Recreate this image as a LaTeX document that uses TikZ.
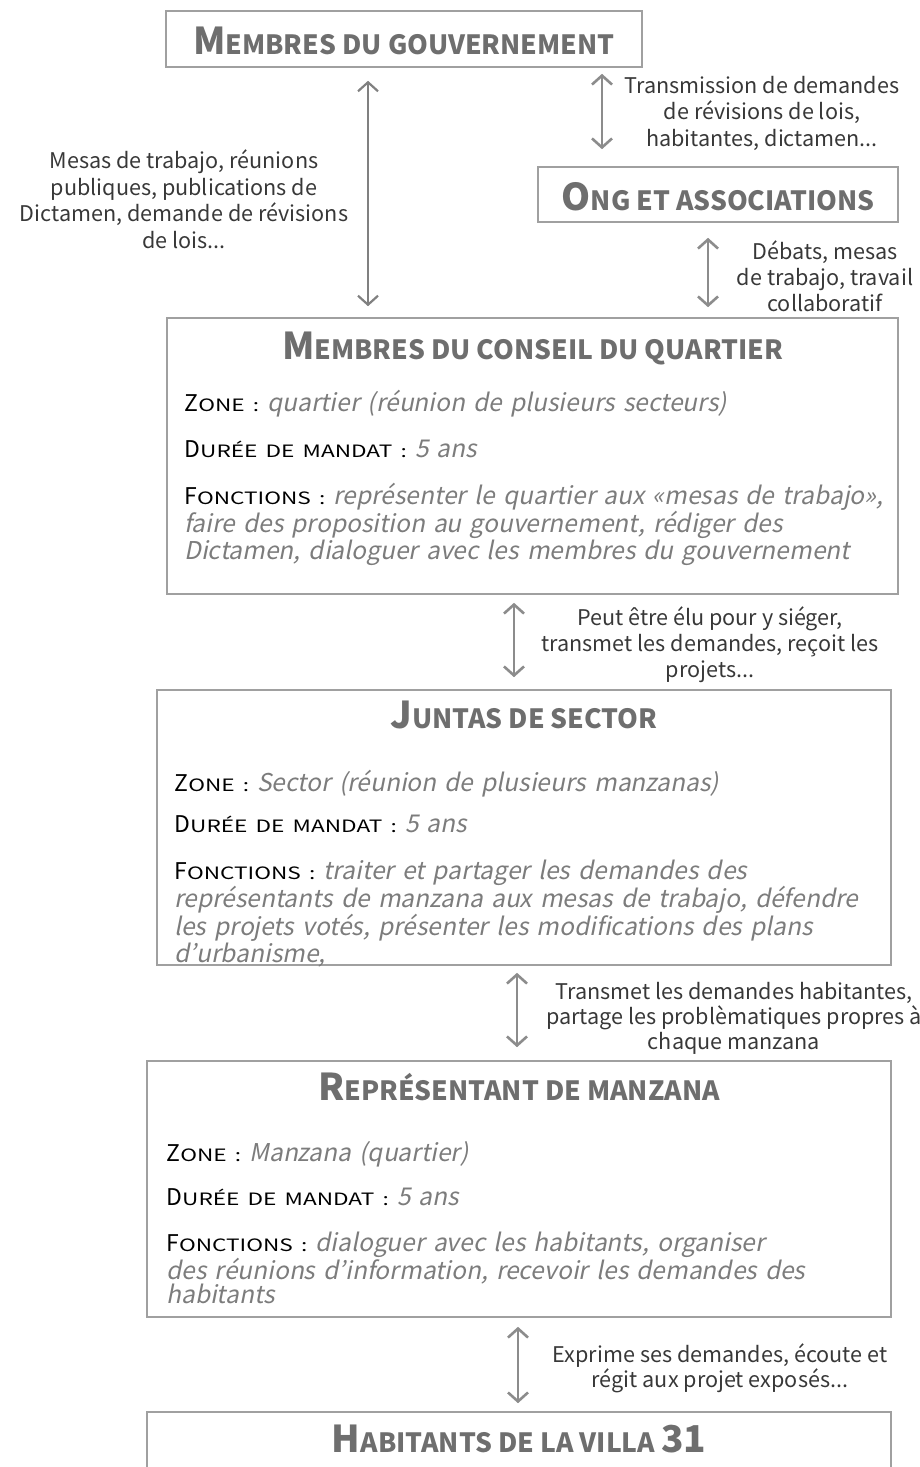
\documentclass[tikz,border=0pt]{standalone}
\usepackage{fontspec}
\setmainfont{Noto Sans CJK JP}
\newfontfamily\slantfont{Noto Sans CJK JP}[FakeSlant=0.2]
\newfontfamily\widefont{Noto Sans CJK JP}[FakeStretch=1.33]
\usetikzlibrary{arrows.meta}
\usetikzlibrary{positioning}

\definecolor{boxgray}{HTML}{A0A0A0}
\definecolor{titlegray}{HTML}{6E6E6E}
\definecolor{arrowgray}{HTML}{8C8C8C}
\definecolor{textdark}{HTML}{383838}
\definecolor{itgray}{HTML}{7C7C7C}

\newcommand{\titlesc}[2]{{\fontsize{37}{44}\selectfont #1}{\fontsize{26.5}{44}\selectfont #2}}
\newcommand{\fieldsc}[2]{{\fontsize{23}{26}\selectfont #1}{\widefont\fontsize{17}{26}\selectfont #2}}
\newcommand{\fieldtxt}[1]{{\slantfont\color{itgray}\fontsize{24.5}{24.2}\selectfont #1}}

\tikzset{
  cadre/.style={draw=boxgray, line width=1.6pt, inner sep=0pt},
  titre/.style={anchor=base, inner sep=0pt, text=titlegray, font=\bfseries},
  champ/.style={anchor=base west, inner sep=0pt, text=black, text width=740pt, align=left,
    font=\fontsize{24.5}{24.2}\selectfont},
  legende/.style={anchor=base, inner sep=0pt, text=textdark, align=center,
    font=\fontsize{21.6}{26.5}\selectfont},
  lien/.style={draw=arrowgray, line width=2.6pt,
    {Straight Barb[length=9pt,width=20pt]}-{Straight Barb[length=9pt,width=20pt]}},
}

\begin{document}
\begin{tikzpicture}[x=1pt,y=-1pt]

				    \clip (0,0) rectangle (920,1467);

				    % Place boxes
				    \node[cadre, minimum width=476pt, minimum height=56pt] (gov) at (404,39) {};
				    \node[cadre, minimum width=360pt, minimum height=55pt] (ong) at (718,194.5) {};
				    \node[cadre, minimum width=731pt, minimum height=276pt] (conseil) at (532.5,456) {};
				    \node[cadre, minimum width=734pt, minimum height=275pt] (juntas) at (524,827.5) {};
				    \node[cadre, minimum width=744pt, minimum height=256pt] (rep) at (519,1189) {};
				    \node[cadre, minimum width=744pt, minimum height=110pt] (hab) at (519,1467) {};

				    % Titles
				    \node[titre] (govtitre) at ([yshift=-44pt]gov.north) {\titlesc{M}{EMBRES DU GOUVERNEMENT}};
				    \node[titre] (ongtitre) at ([yshift=-44pt]ong.north) {\titlesc{O}{NG ET ASSOCIATIONS}};
				    \node[titre] (conseiltitre) at ([yshift=-42pt]conseil.north) {\titlesc{M}{EMBRES DU CONSEIL DU QUARTIER}};
				    \node[titre] (juntastitre) at ([yshift=-39pt]juntas.north) {\titlesc{J}{UNTAS DE SECTOR}};
				    \node[titre] (reptitre) at ([yshift=-40pt]rep.north) {\titlesc{R}{EPRÉSENTANT DE MANZANA}};
				    \node[titre] (habtitre) at ([yshift=-41pt]hab.north) {\titlesc{H}{ABITANTS DE LA VILLA }{\fontsize{37}{44}\selectfont 31}};

				    % Conseil du quartier
				    \node[champ] (conszone) at ([shift={(18pt,-94pt)}]conseil.north west)
				      {\fieldsc{Z}{ONE :} \fieldtxt{quartier (réunion de plusieurs secteurs)}};
				    \node[champ] (consduree) at ([shift={(18pt,-140pt)}]conseil.north west)
				      {\fieldsc{D}{URÉE DE MANDAT :} \fieldtxt{5 ans}};
				    \node[champ] (consfonc) at ([shift={(18pt,-187pt)}]conseil.north west)
				      {\fieldsc{F}{ONCTIONS :} \fieldtxt{représenter le quartier aux «mesas de trabajo»,\\
				      faire des proposition au gouvernement, rédiger des\\
				      Dictamen, dialoguer avec les membres du gouvernement}};

				    % Juntas de sector
				    \node[champ] (juntzone) at ([shift={(18pt,-102pt)}]juntas.north west)
				      {\fieldsc{Z}{ONE :} \fieldtxt{Sector (réunion de plusieurs manzanas)}};
				    \node[champ] (juntduree) at ([shift={(18pt,-143pt)}]juntas.north west)
				      {\fieldsc{D}{URÉE DE MANDAT :} \fieldtxt{5 ans}};
				    \node[champ] (juntfonc) at ([shift={(18pt,-190pt)}]juntas.north west)
				      {\fieldsc{F}{ONCTIONS :} \fieldtxt{traiter et partager les demandes des\\
				      représentants de manzana aux mesas de trabajo, défendre\\
				      les projets votés, présenter les modifications des plans\\
				      d’urbanisme,}};

				    % Representant de manzana
				    \node[champ] (repzone) at ([shift={(20pt,-101pt)}]rep.north west)
				      {\fieldsc{Z}{ONE :} \fieldtxt{Manzana (quartier)}};
				    \node[champ] (repduree) at ([shift={(20pt,-145pt)}]rep.north west)
				      {\fieldsc{D}{URÉE DE MANDAT :} \fieldtxt{5 ans}};
				    \node[champ] (repfonc) at ([shift={(20pt,-191pt)}]rep.north west)
				      {\fieldsc{F}{ONCTIONS :} \fieldtxt{dialoguer avec les habitants, organiser\\
				      des réunions d’information, recevoir les demandes des\\
				      habitants}};

				    % Arrows
				    \coordinate (fl1) at (602,0);
				    \coordinate (fl2) at (708,0);
				    \coordinate (fl3) at (368,0);
				    \coordinate (fl4) at (514,0);
				    \coordinate (fl5) at (517,0);
				    \coordinate (fl6) at (518,0);
				    \draw[lien, shorten <=6pt, shorten >=17pt] (gov.south -| fl1) -- (ong.north -| fl1);
				    \draw[lien, shorten <=15pt, shorten >=10pt] (ong.south -| fl2) -- (conseil.north -| fl2);
				    \draw[lien, draw=gray, line width=2.2pt, shorten <=13pt, shorten >=11pt] (gov.south -| fl3) -- (conseil.north -| fl3);
				    \draw[lien, shorten <=8pt, shorten >=12pt] (conseil.south -| fl4) -- (juntas.north -| fl4);
				    \draw[lien, shorten <=7pt, shorten >=13pt] (juntas.south -| fl5) -- (rep.north -| fl5);
				    \draw[lien, shorten <=9pt, shorten >=8pt] (rep.south -| fl6) -- (hab.north -| fl6);

				    % Arrow labels (anchored on their last line)
				    \node[legende] (l1) at (762,146) {Transmission de demandes\\de révisions de lois,\\habitantes, dictamen...};
				    \node[legende, font=\fontsize{21.6}{26}\selectfont] (l2) at (825,311) {Débats, mesas\\de trabajo, travail\\collaboratif};
				    \node[legende] (l3) at (184,248) {Mesas de trabajo, réunions\\publiques, publications de\\Dictamen, demande de révisions\\de lois...};
				    \node[legende, font=\fontsize{21.6}{26}\selectfont] (l4) at (710,677) {Peut être élu pour y siéger,\\transmet les demandes, reçoit les\\projets...};
				    \node[legende, font=\fontsize{21.6}{25}\selectfont] (l5) at (734,1049) {Transmet les demandes habitantes,\\partage les problèmatiques propres à\\chaque manzana};
				    \node[legende, font=\fontsize{21.6}{25}\selectfont] (l6) at (720,1387) {Exprime ses demandes, écoute et\\régit aux projet exposés...};

				\end{tikzpicture}
\end{document}
